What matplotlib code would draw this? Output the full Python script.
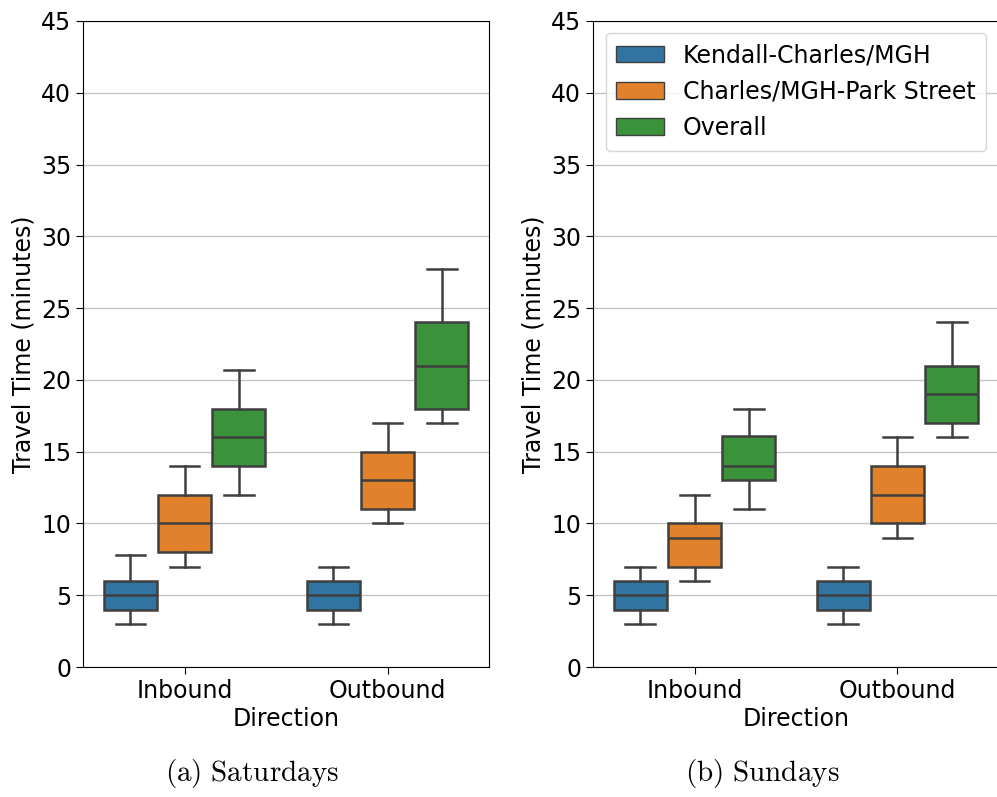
import matplotlib
matplotlib.use('Agg')
import matplotlib.pyplot as plt
from matplotlib.patches import Patch

# Box statistics (minutes)
directions = ['Inbound', 'Outbound']
segments = ['Kendall-Charles/MGH', 'Charles/MGH-Park Street', 'Overall']
colors = ['#3274a1', '#e1812c', '#3a923a']

# each entry: (whislo, q1, median, q3, whishi)
saturday = {
    'Inbound':  [(3, 4, 5, 6, 7.8), (7, 8, 10, 12, 14), (12, 14, 16, 18, 20.7)],
    'Outbound': [(3, 4, 5, 6, 7), (10, 11, 13, 15, 17), (17, 18, 21, 24, 27.7)],
}
sunday = {
    'Inbound':  [(3, 4, 5, 6, 7), (6, 7, 9, 10, 12), (11, 13, 14, 16.1, 18)],
    'Outbound': [(3, 4, 5, 6, 7), (9, 10, 12, 14, 16), (16, 17, 19, 21, 24)],
}
captions = [r'$\mathrm{(a)\ Saturdays}$', r'$\mathrm{(b)\ Sundays}$']

plt.rcParams['mathtext.fontset'] = 'cm'

fig = plt.figure(figsize=(9.97, 7.97), dpi=100)
ax1 = fig.add_axes([0.0833, 0.1631, 0.4072, 0.8106])
ax2 = fig.add_axes([0.5948, 0.1631, 0.4072, 0.8106])

width = 0.8 / len(segments)
line_col = '#3f3f3f'

for ax, data in zip([ax1, ax2], [saturday, sunday]):
    for i, d in enumerate(directions):
        for j, seg in enumerate(segments):
            lo, q1, med, q3, hi = data[d][j]
            stats = [dict(whislo=lo, q1=q1, med=med, q3=q3, whishi=hi, fliers=[])]
            pos = i + (j - 1) * width
            ax.bxp(stats, positions=[pos], widths=width * 0.99, patch_artist=True,
                   showfliers=False, manage_ticks=False,
                   boxprops=dict(facecolor=colors[j], edgecolor=line_col, linewidth=1.8),
                   medianprops=dict(color=line_col, linewidth=1.8),
                   whiskerprops=dict(color=line_col, linewidth=1.8),
                   capprops=dict(color=line_col, linewidth=1.8),
                   capwidths=width * 0.55, zorder=3)
    ax.set_xlim(-0.5, 1.5)
    ax.set_ylim(0, 45)
    ax.set_xticks(range(len(directions)))
    ax.set_xticklabels(directions)
    ax.set_yticks(range(0, 46, 5))
    ax.tick_params(labelsize=17, length=5)
    ax.yaxis.grid(True, color='#c4c4c4', linewidth=1)
    ax.set_axisbelow(True)
    ax.set_xlabel('Direction', fontsize=17, labelpad=3)
    ax.set_ylabel('Travel Time (minutes)', fontsize=17)

# subfigure captions
fig.text(0.2528, 0.030, captions[0], ha='center', va='center', fontsize=21)
fig.text(0.7643, 0.030, captions[1], ha='center', va='center', fontsize=21)

handles = [Patch(facecolor=c, edgecolor=line_col, label=s) for c, s in zip(colors, segments)]
ax2.legend(handles=handles, loc='upper right', fontsize=17, handlelength=2.0,
           borderpad=0.45, labelspacing=0.52, bbox_to_anchor=(0.997, 1.0))

fig.savefig('out.png', dpi=100)
